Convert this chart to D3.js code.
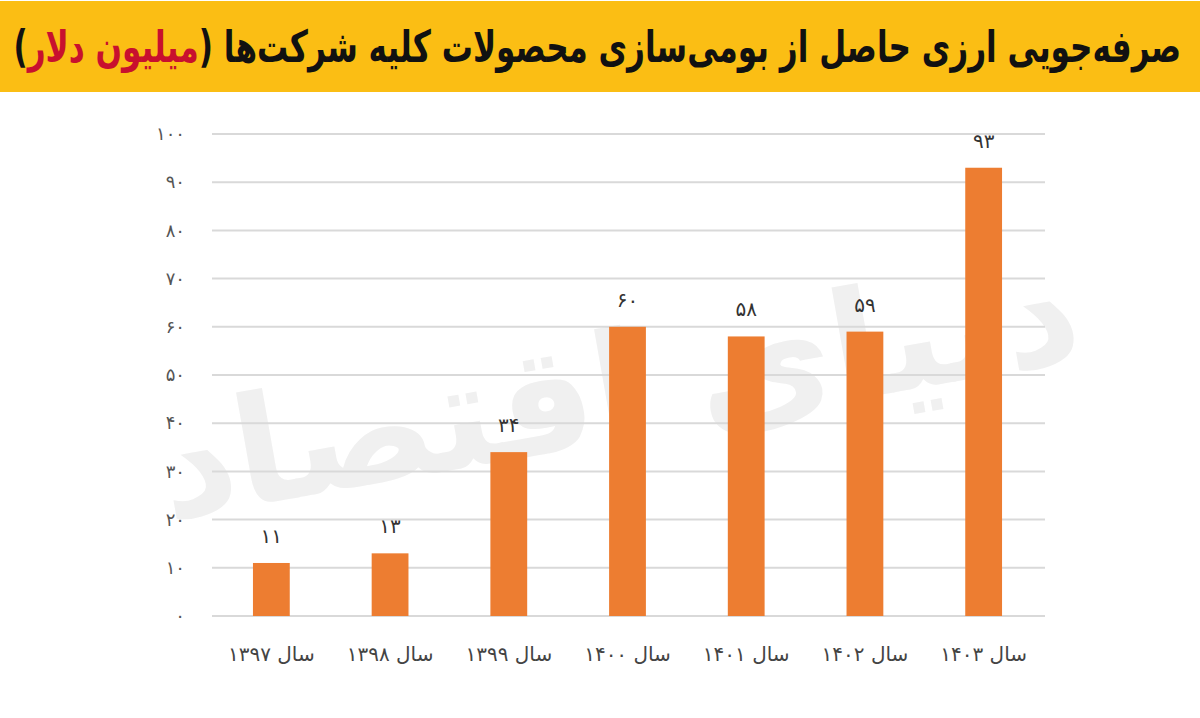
<!DOCTYPE html>
<html>
<head>
  <meta charset="utf-8">
  <title>صرفه‌جویی ارزی</title>
  <script src="https://d3js.org/d3.v7.min.js"></script>
  <style type="text/css">
    body { margin: 0; background: #fff; }
    svg { display: block; }
  </style>
</head>
<body>
<script>

var width = 1200;
var height = 718;

// data
var years = ["۱۳۹۷", "۱۳۹۸", "۱۳۹۹", "۱۴۰۰", "۱۴۰۱", "۱۴۰۲", "۱۴۰۳"];
var values = [11, 13, 34, 60, 58, 59, 93];
var yTicks = [0, 10, 20, 30, 40, 50, 60, 70, 80, 90, 100];

var titleMain = "صرفه‌جویی ارزی حاصل از بومی‌سازی محصولات کلیه شرکت‌ها (";
var titleRed = "میلیون دلار";
var titleEnd = ")";

// western digits -> persian digits
function fa(n) {
  return String(n).replace(/\d/g, function (d) { return "۰۱۲۳۴۵۶۷۸۹"[+d]; });
}

var margin = {left: 212, right: 157, top: 134, bottom: 102};

var svg = d3.select("body").append("svg")
  .attr("width", width)
  .attr("height", height);

// yellow title band
svg.append("rect")
  .attr("x", 0).attr("y", 1)
  .attr("width", width).attr("height", 91)
  .attr("fill", "#FBBE14");

// title is drawn at a tall size then squeezed sideways to fit the band
var titleG = svg.append("g");
var title = titleG.append("text")
  .attr("x", 0).attr("y", 0)
  .attr("direction", "rtl")
  .attr("text-anchor", "start")
  .style("font-family", "'DejaVu Sans', sans-serif")
  .style("font-weight", "bold")
  .style("font-size", "44px")
  .attr("fill", "#111");
title.append("tspan").text(titleMain);
title.append("tspan").attr("fill", "#C8102E").text(titleRed);
title.append("tspan").text(titleEnd);

var tw = title.node().getComputedTextLength();
titleG.attr("transform", "translate(1181,62) scale(" + (1168 / tw) + ",1)");

var x = d3.scaleBand()
  .domain(years)
  .range([margin.left, width - margin.right])
  .paddingInner(0.69)
  .paddingOuter(0.345);

var y = d3.scaleLinear()
  .domain([0, 100])
  .range([height - margin.bottom, margin.top]);

// watermark
svg.append("text")
  .attr("x", 620).attr("y", 440)
  .attr("text-anchor", "middle")
  .attr("direction", "rtl")
  .attr("transform", "rotate(-10,620,400)")
  .style("font-family", "'DejaVu Sans', sans-serif")
  .style("font-weight", "bold")
  .style("font-size", "150px")
  .attr("fill", "#f0f0f0")
  .text("دنیای اقتصاد");

// gridlines
svg.append("g")
  .selectAll("line")
  .data(yTicks)
  .enter()
  .append("line")
  .attr("x1", margin.left)
  .attr("x2", width - margin.right + 2)
  .attr("y1", function (d) { return y(d); })
  .attr("y2", function (d) { return y(d); })
  .attr("stroke", "#d9d9d9")
  .attr("stroke-width", 2);

// y axis labels
var yAxis = d3.axisLeft(y)
  .tickValues(yTicks)
  .tickSize(0)
  .tickPadding(27)
  .tickFormat(fa);

svg.append("g")
  .attr("transform", "translate(" + margin.left + ",0)")
  .call(yAxis)
  .call(function (g) { g.select(".domain").remove(); })
  .selectAll("text")
  .style("font-family", "'DejaVu Sans', sans-serif")
  .style("font-size", "18px")
  .attr("fill", "#555");

// bars
svg.append("g")
  .selectAll("rect")
  .data(values)
  .enter()
  .append("rect")
  .attr("x", function (d, i) { return x(years[i]); })
  .attr("y", function (d) { return y(d); })
  .attr("width", x.bandwidth())
  .attr("height", function (d) { return y(0) - y(d); })
  .attr("fill", "#ED7D31");

// value labels
svg.append("g")
  .selectAll("text")
  .data(values)
  .enter()
  .append("text")
  .attr("x", function (d, i) { return x(years[i]) + x.bandwidth() / 2; })
  .attr("y", function (d) { return y(d) - 20; })
  .attr("text-anchor", "middle")
  .style("font-family", "'DejaVu Sans', sans-serif")
  .style("font-size", "20px")
  .attr("fill", "#333")
  .text(fa);

// x axis labels
var xAxis = d3.axisBottom(x)
  .tickSize(0)
  .tickPadding(31)
  .tickFormat(function (d) { return "سال " + d; });

svg.append("g")
  .attr("transform", "translate(0," + y(0) + ")")
  .call(xAxis)
  .call(function (g) { g.select(".domain").remove(); })
  .selectAll("text")
  .attr("direction", "rtl")
  .style("font-family", "'DejaVu Sans', sans-serif")
  .style("font-size", "20px")
  .attr("fill", "#444");

</script>
</body>
</html>
